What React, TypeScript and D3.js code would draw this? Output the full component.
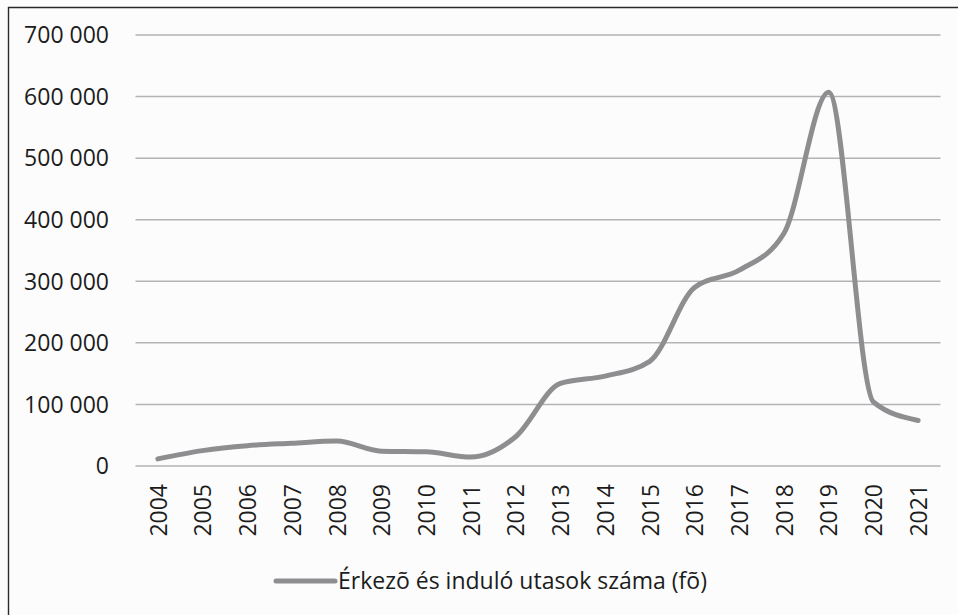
import React from "react";
import * as d3 from "d3";

const years = ["2004","2005","2006","2007","2008","2009","2010","2011","2012","2013","2014","2015","2016","2017","2018","2019","2020","2021"];
const passengers = [11500, 25000, 33000, 37000, 40500, 24000, 23000, 14500, 47500, 134000, 146000, 170000, 290000, 318000, 378000, 607000, 104000, 74000];
const yTicks = [0, 100000, 200000, 300000, 400000, 500000, 600000, 700000];
const seriesName = "Érkezõ és induló utasok száma (fõ)";

const W = 958, H = 615;
const FONT = "'Open Sans', 'Noto Sans', sans-serif";

export default function App() {
  const x = d3.scalePoint<string>().domain(years).range([135.5, 940.5]).padding(0.5);
  const y = d3.scaleLinear().domain([0, 700000]).range([466, 35]);
  const fmt = (v: number) => v === 0 ? "0" : d3.format(",")(v).replace(/,/g, " ");
  const line = d3.line<number>()
    .x((_, i) => x(years[i]) as number)
    .y((d) => y(d))
    .curve(d3.curveMonotoneX);
  return (
    <svg width={W} height={H} style={{ position: "absolute", left: 0, top: 0 }} fontFamily={FONT}>
      <rect x={0} y={0} width={W} height={H} fill="#fcfcfc" />
      <path d={`M8.5,${H} V7.5 H${W}`} fill="none" stroke="#2a2a2a" strokeWidth={1.4} />
      {yTicks.map((t) => (
        <g key={t}>
          <line x1={135.5} x2={940.5} y1={y(t)} y2={y(t)} stroke="#b3b3b5" strokeWidth={1.5} />
          <text x={109} y={y(t)} dy="0.36em" textAnchor="end" fontSize={23} fill="#1c1c1c">{fmt(t)}</text>
        </g>
      ))}
      {years.map((yr) => (
        <text key={yr} transform={`translate(${(x(yr) as number) + 0.5},484) rotate(-90)`} textAnchor="end" dy="0.36em" fontSize={23} fill="#1c1c1c">{yr}</text>
      ))}
      <path d={line(passengers) || ""} fill="none" stroke="#8e8e90" strokeWidth={5} strokeLinecap="round" strokeLinejoin="round" />
      <line x1={276} x2={335} y1={581} y2={581} stroke="#8e8e90" strokeWidth={5} strokeLinecap="round" />
      <text x={338} y={581} dy="0.36em" fontSize={23} fill="#1c1c1c">{seriesName}</text>
    </svg>
  );
}
